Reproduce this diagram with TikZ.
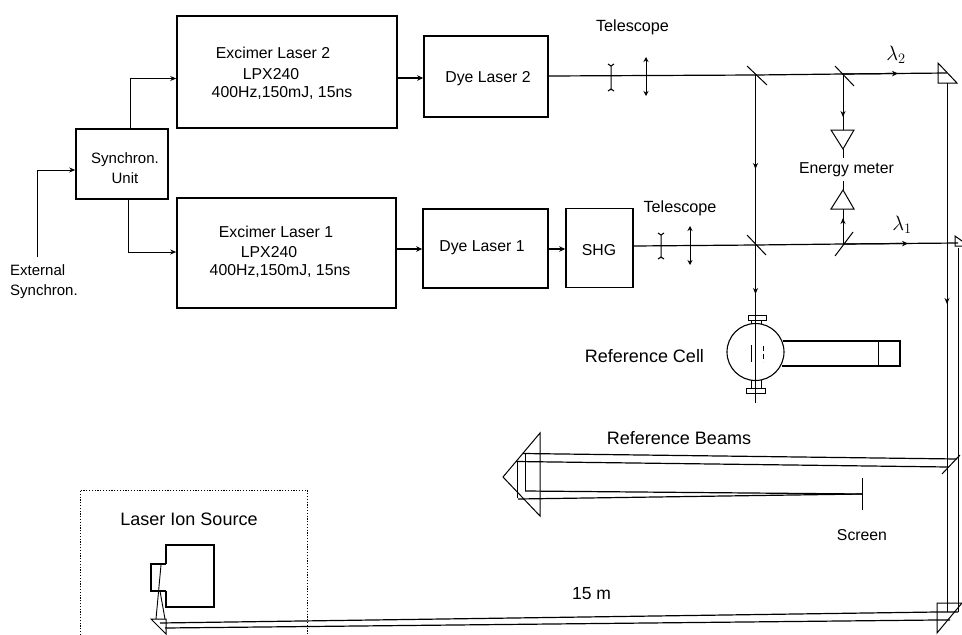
\documentclass[tikz,border=0pt]{standalone}
\usepackage{fontspec}
\setmainfont{Liberation Sans}
\usetikzlibrary{arrows.meta,calc}
\tikzset{
  box/.style={draw,line width=1.6pt,inner sep=0pt},
  lbl/.style={inner sep=0pt,align=center,font=\fontsize{15.8}{20}\selectfont},
  big/.style={inner sep=0pt,align=center,font=\fontsize{18}{20}\selectfont},
  small/.style={inner sep=0pt,align=left,font=\fontsize{15}{20}\selectfont},
  beam/.style={line width=1.2pt},
  opt/.style={line width=1pt},
  ar/.style={-{Stealth[length=6pt,width=5pt]},line width=.9pt},
  arb/.style={-{Stealth[length=6pt,width=5.5pt]},line width=1.2pt},
  ln/.style={line width=.9pt},
}
\begin{document}
\begin{tikzpicture}[x=1pt,y=-1pt]
\useasboundingbox (0,0) rectangle (962,635);
% boxes
\node[box,minimum width=92pt,minimum height=70pt] (sync) at (122,164) {};
\node[small,align=center] (synct) at (125,168) {Synchron.\\Unit};
\node[box,minimum width=220pt,minimum height=112pt] (ex2) at (287,72) {};
\node[box,minimum width=219pt,minimum height=110pt] (ex1) at (286.5,253) {};
\node[box,minimum width=124pt,minimum height=81pt] (dye2) at (486,76.5) {};
\node[box,minimum width=125pt,minimum height=79pt] (dye1) at (485.5,248.5) {};
\node[box,minimum width=67pt,minimum height=79pt] (shg) at (599.5,248) {};
\node[lbl] (dye2t) at (488,79) {Dye Laser 2};
\node[lbl] (dye1t) at (482,248) {Dye Laser 1};
\node[lbl] (shgt) at (599,250) {SHG};
\node[lbl] (e2a) at (273,53) {Excimer Laser 2};
\node[lbl] (e2b) at (271,74) {LPX240};
\node[lbl] (e2c) at (282,93) {400Hz,150mJ, 15ns};
\node[lbl] (e1a) at (276,232) {Excimer Laser 1};
\node[lbl] (e1b) at (269,252) {LPX240};
\node[lbl] (e1c) at (280,271) {400Hz,150mJ, 15ns};
\node[small,anchor=west] (ext) at (10,282) {External\\Synchron.};
\node[lbl,font=\fontsize{16.2}{20}\selectfont] (t2) at (632.5,27) {Telescope};
\node[lbl,font=\fontsize{16.2}{20}\selectfont] (t1) at (680,208) {Telescope};
\node[lbl] (em) at (846.5,170) {Energy meter};
\node[big,font=\fontsize{22}{24}\selectfont] (l2) at (896,55) {$\lambda_2$};
\node[big,font=\fontsize{22}{24}\selectfont] (l1) at (902,225) {$\lambda_1$};
\node[big] (rc) at (644.5,356) {Reference Cell};
\node[big] (rb) at (679,438) {Reference Beams};
\node[lbl] (scr) at (862,535) {Screen};
\node[big] (lis) at (189,519) {Laser Ion Source};
\node[big,font=\fontsize{17.5}{20}\selectfont] (fifteen) at (591.5,594) {15 m};
% coordinates
\coordinate (extb) at (37,257);
\coordinate (extc) at (37,170);
\coordinate (m1) at (755.5,75);
\coordinate (m2) at (843,74);
\coordinate (m3) at (755.5,245);
\coordinate (m4) at (843,244);
\coordinate (p2) at (947,73);
\coordinate (p1) at (958,243);
% control connectors
\draw[ar] (extb) -- (extc) -- (extc-|sync.west);
\draw[ar] (130,129) -- (130,78.5) -- (ex2.west|-0,78.5);
\draw[ar] (128,199) -- (128,252) -- (ex1.west|-0,252);
% beams
\draw[arb] (ex2.east|-0,78) -- (dye2.west|-0,78);
\draw[arb] (ex1.east|-0,249) -- (dye1.west|-0,249);
\draw[arb] (dye1.east|-0,249) -- (shg.west|-0,249);
\draw[beam] (dye2.east|-0,76) -- (m1) -- (m2) -- (p2);
\draw[arb] (m2) -- (898,73.5);
\draw[beam] (shg.east|-0,246) -- (m3) -- (m4) -- (p1);
\draw[arb] (m4) -- (908,243.5);
% telescopes
\draw[opt] (611,65) -- (611,90) (608,64) -- (611,66) -- (614,64) (608,91) -- (611,89) -- (614,91);
\draw[opt,{Stealth[length=5pt,width=5pt]}-{Stealth[length=5pt,width=5pt]}] (646,57) -- (646,96);
\draw[opt] (661,234) -- (661,258) (658,233) -- (661,235) -- (664,233) (658,259) -- (661,257) -- (664,259);
\draw[opt,{Stealth[length=5pt,width=5pt]}-{Stealth[length=5pt,width=5pt]}] (690,226) -- (690,265);
% mirrors
\draw[opt] (747,66) -- (767,85);
\draw[opt] (835,66) -- (854,86);
\draw[opt] (747,235) -- (766,255);
\draw[opt] (835,256) -- (853,232);
% verticals
\draw[ar] (m1) -- (755.5,169);
\draw[ln] (755.5,165) -- (m3);
\draw[ar] (m3) -- (755.5,294);
\draw[ln] (755.5,290) -- (755.5,403);
\draw[ar] (m2) -- (843,117);
\draw[ln] (843,113) -- (843,130);
\draw[ln] (843,149) -- (843,158);
\draw[ln] (843,181) -- (843,190);
\draw[ar] (m4) -- (843,218);
\draw[ln] (843,222) -- (843,209);
% energy meter triangles
\draw[opt] (831,130) -- (854,130) -- (843,149) -- cycle;
\draw[opt] (831,209) -- (854,209) -- (843,190) -- cycle;
% top prism
\draw[opt] (938,63) -- (957,83) -- (938,83) -- cycle;
% second prism
\draw[opt] (962,241) -- (955,236) -- (955,246) -- (962,246);
% long verticals
\draw[ar] (947,83) -- (947,304);
\draw[ln] (947,300) -- (947,612);
\draw[line width=.9pt] (958,248) -- (958,612);
% reference cell
\draw[line width=1.1pt] (755.5,352) circle[radius=28.5];
\draw[line width=1pt,fill=white] (748,315) rectangle (766,320);
\draw[line width=.8pt] (751,320) -- (751,324) (761,320) -- (761,324);
\draw[line width=1pt,fill=white] (746,388) rectangle (765,393);
\draw[line width=.8pt] (751,380) -- (751,388) (761,380) -- (761,388);
\draw[ln] (755.5,290) -- (755.5,403);
\draw[line width=1pt] (751,345) -- (751,362);
\draw[line width=1pt,dash pattern=on 5pt off 3pt] (763,346) -- (763,362);
\draw[line width=1.1pt] (783,341) -- (900,341) -- (900,366) -- (782,366);
\draw[ln] (878,342) -- (878,366);
% reference beams
\draw[opt] (942,474) -- (960,455);
\draw[opt] (540,433) -- (503,477) -- (540,516) -- cycle;
\draw[beam] (523,453.5) -- (957,459);
\draw[beam] (516,461.5) -- (948,467);
\draw[ln] (517,461) -- (517,498) (525,453) -- (525,491);
\draw[beam] (525,491) -- (862,494);
\draw[beam] (518,499) -- (862,494);
\draw[ln] (862,478) -- (862,510);
% bottom prism
\draw[opt] (937,603) -- (962,603) -- (937,633) -- cycle;
\draw[beam] (160,623) -- (937,612) -- (958,612);
\draw[beam] (165,628) -- (937,620) -- (950,620);
% source
\draw[dash pattern=on 1.2pt off 1.6pt,line width=.9pt] (80,635) -- (80,490) -- (307,490) -- (307,635);
\draw[line width=1.1pt] (166,564) -- (166,545) -- (214,545) -- (214,607) -- (166,607) -- (166,591);
\draw[line width=1.1pt] (166,564) -- (151,564) -- (151,591) -- (166,591);
\draw[ln] (161,565) -- (156,619) (160,591) -- (165,619);
\draw[opt] (151,619) -- (166,619) -- (166,634) -- cycle;
\end{tikzpicture}
\end{document}
